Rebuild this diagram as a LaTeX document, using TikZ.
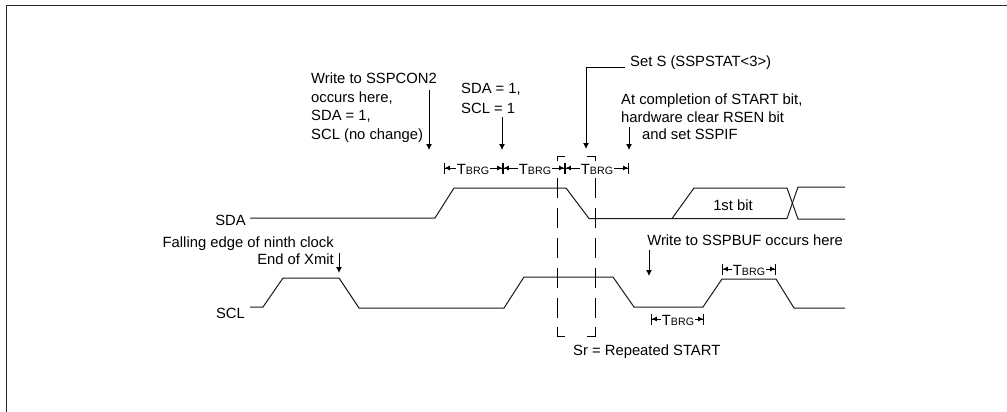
\documentclass[tikz,border=0pt]{standalone}
\usepackage{fontspec}
\setmainfont{Liberation Sans}
\usetikzlibrary{arrows.meta, positioning}
\newcommand{\tbrg}{T\scalebox{0.72}{BRG}}
\begin{document}
\begin{tikzpicture}[
  x=1pt, y=-1pt,
  lbl/.style={inner sep=0pt, align=left, font=\fontsize{14.8}{#1}\selectfont},
  lbl/.default=18.5,
  tlbl/.style={inner sep=1pt, fill=white, font=\fontsize{14.8}{16}\selectfont},
  sig/.style={line width=1pt, black!90},
  arr/.style={-{Latex[length=6pt,width=6pt]}, line width=0.9pt},
  span/.style={{Bar[width=11pt,length=0pt]Latex[length=5pt,width=5pt]}-{Latex[length=5pt,width=5pt]Bar[width=11pt,length=0pt]}, line width=0.8pt},
  sr/.style={line width=0.8pt, dash pattern=on 20pt off 10pt}
]
\useasboundingbox (0,0) rectangle (1007,412);
\draw[line width=1.1pt, black!85] (6.6,412) -- (6.6,5.8) -- (1007,5.8);

% signal labels
\node[lbl, anchor=east] (sda) at (246,220) {SDA};
\node[lbl, anchor=east] (scl) at (245,313) {SCL};
\coordinate (sdaS) at (250,218);
\coordinate (sclS) at (250,307);

% SDA
\draw[sig] (sdaS) -- (435,218) -- (454,188) -- (566,188) -- (589,218.5) -- (672,218.5)
  -- (694,188) -- (787,188) -- (798,219) -- (845,219);
\draw[sig] (672,218.5) -- (787,218.5) -- (798,187) -- (845,187);
\node[lbl] (bit) at (733,205) {1st bit};

% SCL
\draw[sig] (sclS) -- (263,307) -- (283,278) -- (339,278) -- (359,308) -- (504,308)
  -- (524,277) -- (613,277) -- (634,307) -- (703,307) -- (722,279) -- (776,279)
  -- (794,308) -- (845,308);

% Sr box
\coordinate (srA) at (557,156);
\coordinate (srB) at (595,156);
\draw[line width=0.8pt] (565,156) -- (srA) -- (557,161);
\draw[line width=0.8pt] (587,156) -- (srB) -- (595,161);
\draw[sr] (557,178) -- (557,320);
\draw[sr] (595,178) -- (595,320);
\draw[line width=0.8pt] (557,327) -- (557,336) -- (565,336);
\draw[line width=0.8pt] (595,327) -- (595,336) -- (587,336);
\node[lbl, anchor=west] (srl) at (573,352) {Sr = Repeated START};

% TBRG spans
\coordinate (t0) at (444,168);
\coordinate (t1) at (503,168);
\coordinate (t2) at (565,168);
\coordinate (t3) at (629,168);
\draw[span] (t0) -- (t1);
\draw[span] (t1) -- (t2);
\draw[span] (t2) -- (t3);
\node[tlbl] at (473,169) {\tbrg};
\node[tlbl] at (535,169) {\tbrg};
\node[tlbl] at (597,169) {\tbrg};
\coordinate (t4) at (651,319);
\coordinate (t5) at (704,319);
\draw[span] (t4) -- (t5);
\node[tlbl] at (678,320) {\tbrg};
\coordinate (t6) at (722,269);
\coordinate (t7) at (776,269);
\draw[span] (t6) -- (t7);
\node[tlbl] at (749,270) {\tbrg};

% notes
\node[lbl, anchor=north west] (wr) at (311,73) {Write to SSPCON2\\occurs here,\\SDA = 1,\\SCL (no change)};
\draw[arr] (429,90) -- (429,150);
\node[lbl=20, anchor=north west] (hi) at (461,83) {SDA = 1,\\SCL = 1};
\draw[arr] (502,117) -- (502,150);
\node[lbl, anchor=west] (sets) at (630,63) {Set S (SSPSTAT<3>)};
\draw[arr] (625,67) -| (586,149);
\node[lbl=17.5, anchor=north west] (fin) at (621,94) {At completion of START bit,\\hardware clear RSEN bit\\\hspace{21pt}and set SSPIF};
\draw[arr] (629,127) -- (629,150);
\node[lbl, anchor=east] (wb) at (843,240) {Write to SSPBUF occurs here};
\draw[arr] (649,250) -- (649,276);
\node[lbl, anchor=east] (fe) at (334,244) {Falling edge of ninth clock};
\node[lbl, anchor=east] (ex) at (334,259) {End of Xmit};
\draw[arr] (339,253) -- (339,273);
\end{tikzpicture}
\end{document}
